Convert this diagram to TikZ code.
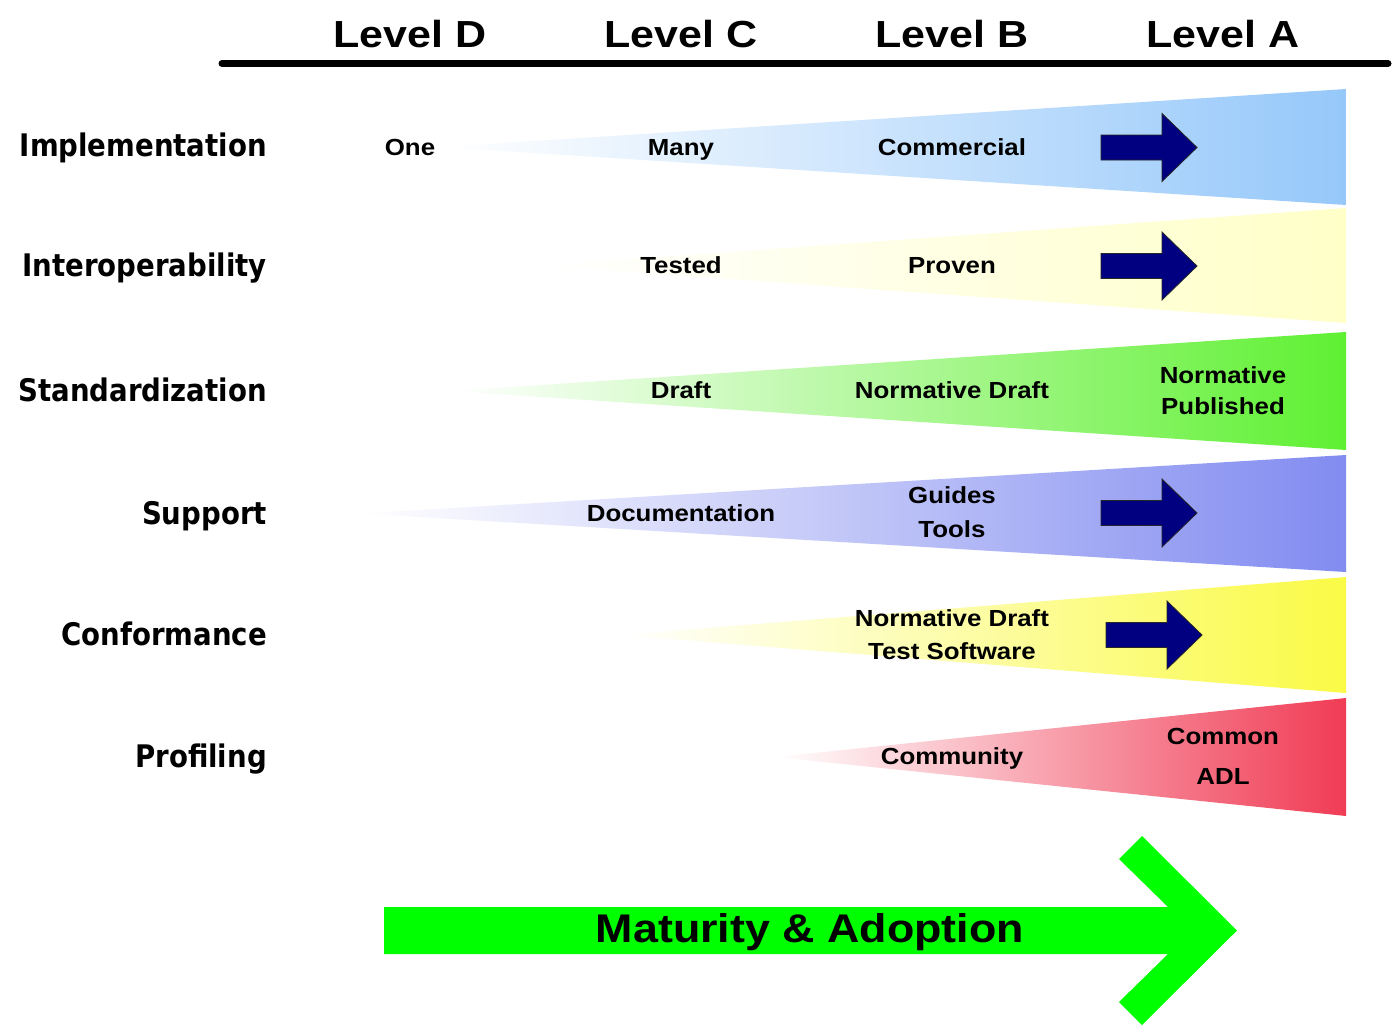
\documentclass[tikz,border=0pt]{standalone}
\usepackage{fontspec}
\newfontfamily\hdrfont{Liberation Sans}[FakeStretch=1.14]
\newfontfamily\lblfont{Liberation Sans}[FakeStretch=1.11]
\newfontfamily\bigfont{Liberation Sans}[FakeStretch=1.12]
\newfontfamily\rowfont{DejaVu Sans}[FakeStretch=0.887]
\definecolor{blueR}{RGB}{150,200,250}
\definecolor{lylwR}{RGB}{255,255,200}
\definecolor{grnR}{RGB}{95,240,50}
\definecolor{purR}{RGB}{130,140,240}
\definecolor{ylwR}{RGB}{250,250,70}
\definecolor{redR}{RGB}{240,60,85}
\definecolor{navyc}{RGB}{0,0,128}
\definecolor{biggreen}{RGB}{0,255,0}
\tikzset{
  hdr/.style={font=\hdrfont\bfseries\fontsize{37.7}{40}\selectfont, inner sep=0pt, anchor=base},
  lbl/.style={font=\lblfont\bfseries\fontsize{23.3}{31}\selectfont, inner sep=0pt, anchor=base, align=center},
  lblm/.style={font=\lblfont\bfseries\fontsize{23.3}{31}\selectfont, inner sep=0pt, anchor=center, align=center},
  rowlbl/.style={font=\rowfont\bfseries\fontsize{31.1}{34}\selectfont, inner sep=0pt, anchor=base east},
  bigtxt/.style={font=\bigfont\bfseries\fontsize{40}{44}\selectfont, inner sep=0pt, anchor=base},
  wedge/.style={left color=white, right color=#1, draw=none},
  navyarrow/.pic={
    \filldraw[fill=navyc, draw=black!85, line width=0.8pt, line join=miter]
      (-96,-12.5) -- (-35,-12.5) -- (-35,-34) -- (0,0) -- (-35,34) -- (-35,12.5) -- (-96,12.5) -- cycle;
  }
}
\begin{document}
\begin{tikzpicture}[x=1pt,y=-1pt]
\useasboundingbox (0,0) rectangle (1395,1029);
\fill[white] (0,0) rectangle (1395,1029);

% header
\draw[line width=7pt, line cap=round] (222,63.5) coordinate (hl) -- (1388,63.5) coordinate (hr);
\node[hdr] (lvD) at (410,47) {Level D};
\node[hdr] (lvC) at (681,47) {Level C};
\node[hdr] (lvB) at (952,47) {Level B};
\node[hdr] (lvA) at (1223,47) {Level A};

% wedges
\shade[wedge=blueR] (440,147) -- (1346,89) -- (1346,205) -- cycle;
\shade[wedge=lylwR] (540,265.5) -- (1346,208) -- (1346,323) -- cycle;
\shade[wedge=grnR] (450,391) -- (1346,332) -- (1346,450) -- cycle;
\shade[wedge=purR] (360,513.5) -- (1346,455) -- (1346,572) -- cycle;
\shade[wedge=ylwR] (620,635) -- (1346,577) -- (1346,693) -- cycle;
\shade[wedge=redR] (775,757) -- (1346,698) -- (1346,816) -- cycle;

% navy arrows
\pic at (1197,147.5) {navyarrow};
\pic at (1197,266) {navyarrow};
\pic at (1197,513) {navyarrow};
\pic at (1202,635) {navyarrow};

% row labels
\node[rowlbl] (rImp) at (267,156) {Implementation};
\node[rowlbl] (rInt) at (267,276.3) {Interoperability};
\node[rowlbl] (rStd) at (267,401.3) {Standardization};
\node[rowlbl] (rSup) at (267,524.3) {Support};
\node[rowlbl] (rCon) at (267,645.3) {Conformance};
\node[rowlbl] (rPro) at (267,767.3) {Profiling};

% inner labels
\node[lbl] (one) at (410,155.3) {One};
\node[lbl] (many) at (681,155.3) {Many};
\node[lbl] (comm) at (952,155.3) {Commercial};
\node[lbl] (tested) at (681,273.3) {Tested};
\node[lbl] (proven) at (952,273.3) {Proven};
\node[lbl] (draft) at (681,398.3) {Draft};
\node[lbl] (normd) at (952,398.3) {Normative Draft};
\node[lblm] (normp) at (1223,390.5) {Normative\\Published};
\node[lbl] (docu) at (681,521.3) {Documentation};
\node[lblm] (guides) at (952,512) {Guides\\[3pt]Tools};
\node[lblm] (ndts) at (952,634.5) {Normative Draft\\[2pt]Test Software};
\node[lbl] (commu) at (952,764.3) {Community};
\node[lblm] (cadl) at (1223,756) {Common\\[9pt]ADL};

% big arrow
\fill[biggreen] (384,907) -- (1168,907) -- (1119,859) -- (1142,836) -- (1237,930.5)
  -- (1142,1025) -- (1119,1002) -- (1168,954) -- (384,954) -- cycle;
\node[bigtxt] (mat) at (810,942.7) {Maturity \& Adoption};
\end{tikzpicture}
\end{document}
